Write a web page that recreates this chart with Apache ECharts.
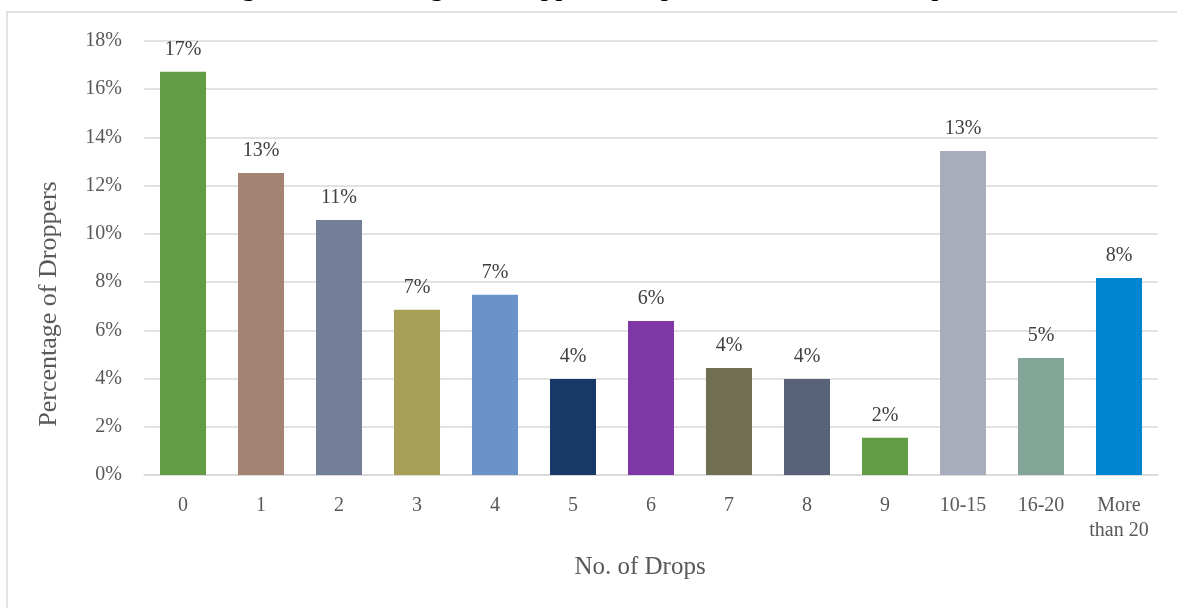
<!DOCTYPE html>
<html>
<head>
<meta charset="utf-8">
<script src="https://cdn.jsdelivr.net/npm/echarts@6/dist/echarts.min.js"></script>
<style>
  html, body { margin: 0; padding: 0; background: #fff; }
  #chart { width: 1177px; height: 608px; }
</style>
</head>
<body>
<div id="chart"></div>
<script>
  // drops per dropper
  var categories = ['0', '1', '2', '3', '4', '5', '6', '7', '8', '9', '10-15', '16-20', 'More\nthan 20'];
  var percentValues = [16.72, 12.53, 10.58, 6.85, 7.48, 3.98, 6.39, 4.44, 3.98, 1.54, 13.44, 4.85, 8.17];
  var barColors = ['#629C44', '#A38371', '#737F99', '#A9A057', '#6A93C9', '#183968', '#7E37A4',
    '#706F51', '#586379', '#629C44', '#A9ACBB', '#83A699', '#0085D1'];

  var serif = '"Liberation Serif", "Times New Roman", serif';

  var chart = echarts.init(document.getElementById('chart'));
  chart.setOption({
    animation: false,
    graphic: [
      {
        type: 'rect',
        shape: { x: 7, y: 12, width: 1300, height: 800 },
        style: { fill: 'none', stroke: '#D9D9D9', lineWidth: 1.5 },
        silent: true
      },
      {
        // page title, cut off by the top of the picture
        type: 'text',
        x: 217,
        y: -13,
        style: {
          text: 'Figure 4: Percentage of Droppers compared to the No. of Drops',
          font: '29px ' + serif,
          fill: '#000',
          verticalAlign: 'middle'
        }
      },
      {
        type: 'text',
        x: 49,
        y: 304,
        rotation: Math.PI / 2,
        style: {
          text: 'Percentage of Droppers',
          font: '26px ' + serif,
          fill: '#595959',
          align: 'center',
          verticalAlign: 'middle'
        }
      }
    ],
    grid: {
      left: 144,
      right: 19,
      top: 41,
      bottom: 133
    },
    xAxis: {
      type: 'category',
      data: categories,
      name: 'No. of Drops',
      nameLocation: 'middle',
      nameGap: 80,
      nameTextStyle: { fontFamily: serif, fontSize: 25, color: '#595959', padding: [0, 22, 0, 0] },
      axisLine: { lineStyle: { color: '#D9D9D9', width: 1.5 } },
      axisTick: { show: false },
      axisLabel: { fontFamily: serif, fontSize: 20, color: '#595959', margin: 18, lineHeight: 25, interval: 0 }
    },
    yAxis: {
      type: 'value',
      min: 0,
      max: 18,
      interval: 2,
      axisLine: { show: false },
      axisTick: { show: false },
      splitLine: { lineStyle: { color: '#D9D9D9', width: 1.5 } },
      axisLabel: { fontFamily: serif, fontSize: 20, color: '#595959', margin: 22, formatter: '{value}%' }
    },
    series: [{
      type: 'bar',
      data: percentValues,
      barWidth: '59%',
      colorBy: 'data',
      itemStyle: {
        color: function (p) { return barColors[p.dataIndex]; }
      },
      label: {
        show: true,
        position: 'top',
        distance: 12,
        fontFamily: serif,
        fontSize: 20,
        color: '#404040',
        formatter: function (p) { return Math.round(p.value) + '%'; }
      }
    }]
  });
</script>
</body>
</html>
